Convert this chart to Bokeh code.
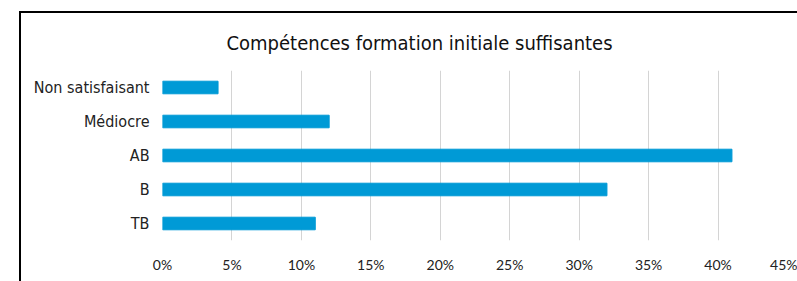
from bokeh.plotting import figure
from bokeh.models import FactorRange, FixedTicker, CustomJSTickFormatter, InlineStyleSheet
from bokeh.embed import file_html
from bokeh.resources import INLINE

categories = ["TB", "B", "AB", "Médiocre", "Non satisfaisant"]
values = [11, 32, 41, 12, 4]
x_ticks = [0, 5, 10, 15, 20, 25, 30, 35, 40, 45]
title_text = "Compétences formation initiale suffisantes"

p = figure(width=797, height=281, output_backend="svg", toolbar_location=None,
           y_range=FactorRange(*categories), x_range=(0, 45),
           min_border_left=162, min_border_right=10, min_border_top=70, min_border_bottom=41)
p.hbar(y=categories, right=values, left=0, height=0.37, color="#009AD6")

p.title.text = title_text
p.title.align = "left"
p.title.offset = 64
p.title.standoff = 32
p.title.text_font = "DejaVu Sans Condensed"
p.title.text_font_size = "20px"
p.title.text_font_style = "normal"
p.title.text_color = "#111111"

p.outline_line_color = None
p.ygrid.grid_line_color = None
p.xgrid.grid_line_color = "#D4D4D4"
p.xgrid.grid_line_width = 1
p.xaxis.ticker = FixedTicker(ticks=x_ticks)
p.xaxis.formatter = CustomJSTickFormatter(code="return tick + '%';")
for ax in (p.xaxis[0], p.yaxis[0]):
    ax.axis_line_color = None
    ax.major_tick_line_color = None
    ax.minor_tick_line_color = None
p.xaxis.major_label_text_font = "Lato"
p.xaxis.major_label_text_font_size = "14px"
p.xaxis.major_label_text_color = "#222222"
p.xaxis.major_label_standoff = 9
p.yaxis.major_label_text_font = "DejaVu Sans Condensed"
p.yaxis.major_label_text_font_size = "16px"
p.yaxis.major_label_text_color = "#222222"
p.yaxis.major_label_standoff = 7

p.stylesheets = [InlineStyleSheet(css=(
    ":host { position: relative; overflow: hidden; }"
    ":host::after { content: ''; position: absolute; left: 19px; top: 11px; width: 1200px; height: 1200px;"
    " border: 2px solid black; box-sizing: border-box; pointer-events: none; }"
))]

open("out.html", "w").write(file_html(p, INLINE))
